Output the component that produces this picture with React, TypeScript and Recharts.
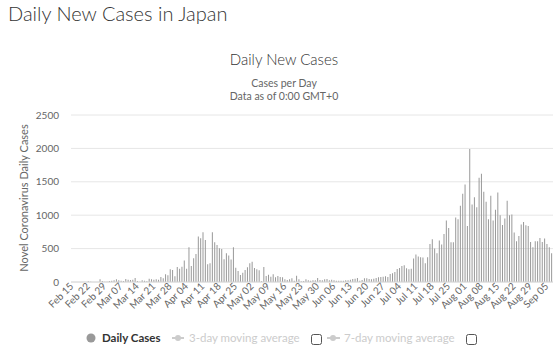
import React from 'react';
import { BarChart, Bar, XAxis, YAxis, CartesianGrid } from 'recharts';

// daily new cases, one value per day starting Feb 15 2020
const dailyCases = [
  0, 0, 0, 0, 0, 0, 0, 10, 2, 0,
  0, 0, 40, 15, 2, 5, 15, 20, 25, 40,
  25, 20, 15, 45, 35, 30, 35, 60, 15, 5,
  25, 20, 10, 50, 40, 35, 40, 35, 75, 55,
  115, 100, 190, 180, 85, 225, 200, 230, 320, 200,
  520, 240, 355, 420, 680, 655, 745, 630, 265, 280,
  745, 595, 555, 505, 495, 340, 430, 395, 335, 520,
  215, 165, 105, 140, 180, 220, 280, 305, 210, 190,
  175, 10, 225, 90, 110, 80, 115, 70, 90, 75,
  70, 40, 30, 40, 55, 20, 95, 40, 10, 15,
  40, 25, 20, 25, 25, 60, 30, 25, 40, 45,
  25, 35, 25, 20, 20, 20, 20, 25, 25, 35,
  45, 50, 60, 20, 30, 55, 55, 45, 40, 50,
  60, 70, 75, 80, 85, 75, 120, 130, 150, 195,
  210, 240, 250, 205, 190, 200, 350, 410, 380, 370,
  365, 280, 370, 570, 640, 500, 430, 620, 560, 720,
  920, 810, 595, 595, 965, 940, 1140, 1320, 1460, 840,
  1990, 1160, 1270, 1120, 1560, 1620, 1350, 1200, 940, 1290,
  920, 1080, 1340, 1000, 855, 950, 1215, 1000, 1010, 740,
  610, 690, 860, 900, 850, 840, 600, 520, 610, 610,
  660, 600, 650, 570, 520, 430,
];

const xTickLabels = [
  'Feb 15', 'Feb 22', 'Feb 29', 'Mar 07', 'Mar 14', 'Mar 21', 'Mar 28',
  'Apr 04', 'Apr 11', 'Apr 18', 'Apr 25', 'May 02', 'May 09', 'May 16',
  'May 23', 'May 30', 'Jun 06', 'Jun 13', 'Jun 20', 'Jun 27', 'Jul 04',
  'Jul 11', 'Jul 18', 'Jul 25', 'Aug 01', 'Aug 08', 'Aug 15', 'Aug 22',
  'Aug 29', 'Sep 05',
];

const yTicks = [0, 500, 1000, 1500, 2000, 2500];

const MONTHS = ['Jan', 'Feb', 'Mar', 'Apr', 'May', 'Jun', 'Jul', 'Aug', 'Sep', 'Oct', 'Nov', 'Dec'];

const data = dailyCases.map((cases, i) => {
  const d = new Date(Date.UTC(2020, 1, 15 + i));
  const date = `${MONTHS[d.getUTCMonth()]} ${String(d.getUTCDate()).padStart(2, '0')}`;
  return { date, cases };
});

const FONT = 'Lato, "Open Sans", sans-serif';

const DateTick = ({ x, y, payload }: any) => (
  <text
    x={x + 2}
    y={y - 3}
    transform={`rotate(-45 ${x + 2} ${y - 3})`}
    textAnchor="end"
    fontSize={10}
    fill="#666"
    fontFamily={FONT}
  >
    {payload.value}
  </text>
);

export default function App() {
  return (
    <div style={{ position: 'absolute', left: 0, top: 0, width: 559, height: 355, background: '#fff', overflow: 'hidden', fontFamily: FONT }}>
      <BarChart
        width={559}
        height={355}
        data={data}
        margin={{ top: 115, right: 6, bottom: 33, left: 30 }}
        barCategoryGap="20%"
      >
        <CartesianGrid vertical={false} stroke="#e6e6e6" />
        <XAxis
          dataKey="date"
          ticks={xTickLabels}
          interval={0}
          height={40}
          tickLine={false}
          axisLine={{ stroke: '#d8d8d8' }}
          tick={<DateTick />}
        />
        <YAxis
          width={41}
          domain={[0, 2500]}
          ticks={yTicks}
          tickLine={false}
          axisLine={false}
          tickMargin={6}
          tick={{ fontSize: 10, fill: '#666', fontFamily: FONT }}
        />
        <Bar dataKey="cases" fill="#999" isAnimationActive={false} />
      </BarChart>

      <svg width={559} height={355} style={{ position: 'absolute', left: 0, top: 0, pointerEvents: 'none' }} fontFamily={FONT}>
        <text x={8} y={21} fontSize={20} fontWeight={300} fill="#333">Daily New Cases in Japan</text>
        <text x={284} y={65} fontSize={15} fontWeight={300} textAnchor="middle" fill="#333">Daily New Cases</text>
        <text x={284} y={87} fontSize={10.5} textAnchor="middle" fill="#666">Cases per Day</text>
        <text x={284} y={100} fontSize={10.5} textAnchor="middle" fill="#666">Data as of 0:00 GMT+0</text>
        <text x={28} y={198} fontSize={11} textAnchor="middle" fill="#666" transform="rotate(-90 28 198)">
          Novel Coronavirus Daily Cases
        </text>

        {/* legend */}
        <circle cx={91} cy={338} r={4.5} fill="#999" />
        <text x={102} y={342} fontSize={11.5} fontWeight={700} fill="#333">Daily Cases</text>
        <line x1={172} x2={184} y1={338} y2={338} stroke="#ccc" strokeWidth={2} />
        <circle cx={178} cy={338} r={3} fill="#ccc" />
        <text x={189} y={342} fontSize={11.5} fill="#ccc">3-day moving average</text>
        <rect x={311.5} y={334.5} width={10} height={10} rx={2} fill="#fff" stroke="#555" />
        <line x1={327} x2={340} y1={338} y2={338} stroke="#ccc" strokeWidth={2} />
        <circle cx={333} cy={338} r={3} fill="#ccc" />
        <text x={344} y={342} fontSize={11.5} fill="#ccc">7-day moving average</text>
        <rect x={466.5} y={334.5} width={10} height={10} rx={2} fill="#fff" stroke="#555" />
      </svg>
    </div>
  );
}
